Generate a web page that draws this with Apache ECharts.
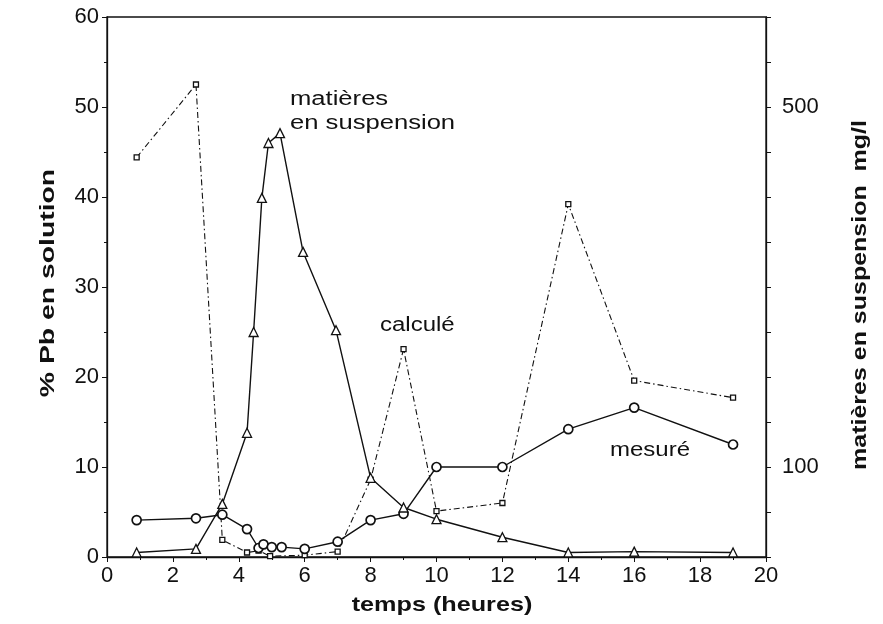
<!DOCTYPE html>
<html>
<head>
<meta charset="utf-8">
<script src="https://cdn.jsdelivr.net/npm/echarts@6/dist/echarts.min.js"></script>
<style>
  html, body { margin: 0; padding: 0; background: #fff; }
  #chart { width: 883px; height: 624px; }
</style>
</head>
<body>
<div id="chart"></div>
<script>
// Time (hours) and values of each series
const tempsMes = [0.9, 2.7, 3.5, 4.25, 4.6, 4.75, 5.0, 5.3, 6.0, 7.0, 8.0, 9.0, 10, 12, 14, 16, 19];
const mesure   = [4.1, 4.3, 4.7, 3.1, 1.0, 1.4, 1.1, 1.1, 0.9, 1.7, 4.1, 4.8, 10.0, 10.0, 14.2, 16.6, 12.5];

const tempsCalc = [0.9, 2.7, 3.5, 4.25, 4.6, 4.95, 6.0, 7.0, 8.0, 9.0, 10, 12, 14, 16, 19];
const calcule   = [44.4, 52.5, 1.9, 0.5, 0.7, 0.1, 0.2, 0.6, 8.6, 23.1, 5.1, 6.0, 39.2, 19.6, 17.7];

// matières en suspension, mg/l (right axis)
const tempsMES = [0.9, 2.7, 3.5, 4.25, 4.45, 4.7, 4.9, 5.25, 5.95, 6.95, 8.0, 9.0, 10, 12, 14, 16, 19];
const mes      = [5, 9, 59, 138, 250, 399, 460, 471, 339, 252, 88, 55, 42, 22, 5, 6, 5];

const rightLabels = [100, 500];

const pair = (xs, ys) => xs.map((x, i) => [x, ys[i]]);

const font = 'Liberation Sans, Arial, Helvetica, sans-serif';
const black = '#111';

// Wide-set text helper (the lettering on this figure is broad)
function label(text, x, y, opts) {
  return {
    type: 'text', x: x, y: y,
    rotation: opts.rotation || 0,
    scaleX: opts.scaleX || 1,
    style: {
      text: text,
      font: (opts.bold ? 'bold ' : '') + opts.size + 'px ' + font,
      fill: black,
      align: opts.align || 'left', verticalAlign: opts.valign || 'top',
      textAlign: opts.align || 'left', textVerticalAlign: opts.valign || 'top',
      lineHeight: opts.lineHeight
    }
  };
}

const chart = echarts.init(document.getElementById('chart'), null, { renderer: 'canvas' });

chart.setOption({
  backgroundColor: '#fff',
  animation: false,
  grid: {
    left: 107, right: 117, top: 17, bottom: 67,
    show: true, borderColor: black, borderWidth: 1.3, backgroundColor: 'transparent'
  },
  xAxis: {
    type: 'value', min: 0, max: 20, interval: 2,
    axisLine: { lineStyle: { color: black, width: 1.3 } },
    axisTick: { length: 5, lineStyle: { color: black } },
    minorTick: { show: true, splitNumber: 2, length: 3, lineStyle: { color: black } },
    axisLabel: { fontFamily: font, fontSize: 22, color: black, margin: 8 },
    splitLine: { show: false }
  },
  yAxis: [
    {
      type: 'value', min: 0, max: 60, interval: 10, position: 'left',
      axisLine: { show: true, lineStyle: { color: black, width: 1.3 } },
      axisTick: { length: 5, lineStyle: { color: black } },
      minorTick: { show: true, splitNumber: 2, length: 3, lineStyle: { color: black } },
      axisLabel: { fontFamily: font, fontSize: 22, color: black, margin: 8 },
      splitLine: { show: false }
    },
    {
      type: 'value', min: 0, max: 600, interval: 50, position: 'right',
      axisLine: { show: true, lineStyle: { color: black, width: 1.3 } },
      axisTick: { length: 5, lineStyle: { color: black } },
      axisLabel: {
        fontFamily: font, fontSize: 22, color: black, margin: 16,
        formatter: v => rightLabels.includes(v) ? String(v) : ''
      },
      splitLine: { show: false }
    }
  ],
  graphic: [
    label('% Pb en solution', 48, 283, { size: 21, bold: true, scaleX: 1.35, rotation: Math.PI / 2, align: 'center', valign: 'middle' }),
    label('matières en suspension  mg/l', 860, 295, { size: 21, bold: true, scaleX: 1.19, rotation: Math.PI / 2, align: 'center', valign: 'middle' }),
    label('temps (heures)', 442, 605, { size: 21, bold: true, scaleX: 1.2, align: 'center', valign: 'middle' }),
    label('matières\nen suspension', 290, 87, { size: 20, scaleX: 1.28, lineHeight: 24 }),
    label('calculé', 380, 315, { size: 20, scaleX: 1.2 }),
    label('mesuré', 610, 440, { size: 20, scaleX: 1.2 })
  ],
  series: [
    {
      name: 'calculé', type: 'line', yAxisIndex: 0,
      data: pair(tempsCalc, calcule),
      symbol: 'rect', symbolSize: 5,
      lineStyle: { color: black, width: 1.1, type: [6, 3, 1.5, 3] },
      itemStyle: { color: '#fff', borderColor: black, borderWidth: 1.3 },
      z: 2
    },
    {
      name: 'mesuré', type: 'line', yAxisIndex: 0,
      data: pair(tempsMes, mesure),
      symbol: 'circle', symbolSize: 9,
      lineStyle: { color: black, width: 1.4 },
      itemStyle: { color: '#fff', borderColor: black, borderWidth: 1.7 },
      z: 3
    },
    {
      name: 'matières en suspension', type: 'line', yAxisIndex: 1,
      data: pair(tempsMES, mes),
      symbol: 'triangle', symbolSize: 9,
      lineStyle: { color: black, width: 1.4 },
      itemStyle: { color: '#fff', borderColor: black, borderWidth: 1.3 },
      z: 4
    }
  ]
});
</script>
</body>
</html>
